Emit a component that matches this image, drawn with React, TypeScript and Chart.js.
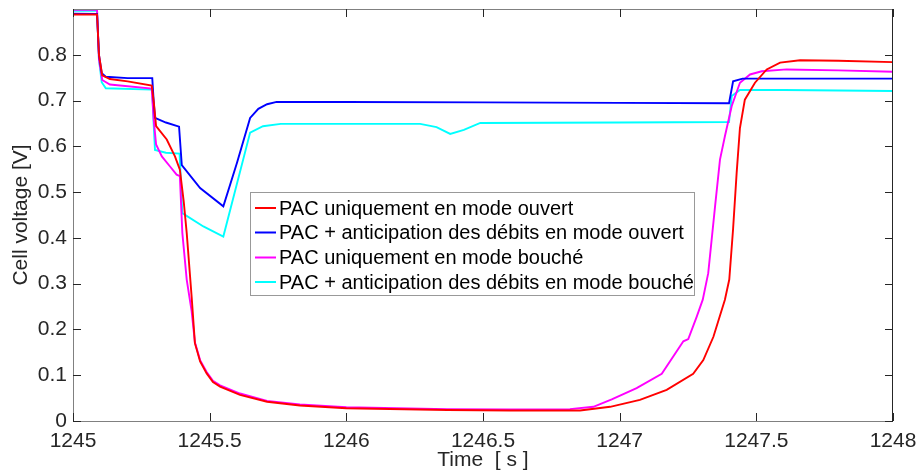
import React, { useEffect, useRef } from "react";
import { Chart, registerables } from "chart.js";

Chart.register(...registerables);

const xTicks = [1245, 1245.5, 1246, 1246.5, 1247, 1247.5, 1248];
const yTicks = [0, 0.1, 0.2, 0.3, 0.4, 0.5, 0.6, 0.7, 0.8];

const redT = [1245, 1245.088, 1245.095, 1245.107, 1245.135, 1245.2, 1245.288, 1245.295, 1245.304, 1245.343, 1245.373, 1245.391, 1245.405, 1245.416, 1245.434, 1245.446, 1245.465, 1245.489, 1245.512, 1245.538, 1245.611, 1245.71, 1245.83, 1246.0, 1246.37, 1246.6, 1246.855, 1246.965, 1247.074, 1247.172, 1247.269, 1247.306, 1247.343, 1247.385, 1247.401, 1247.415, 1247.428, 1247.44, 1247.458, 1247.495, 1247.538, 1247.587, 1247.66, 1247.8, 1248];
const redV = [0.888, 0.888, 0.80, 0.755, 0.747, 0.742, 0.733, 0.70, 0.644, 0.615, 0.578, 0.549, 0.48, 0.411, 0.272, 0.170, 0.130, 0.104, 0.085, 0.075, 0.057, 0.042, 0.034, 0.028, 0.024, 0.023, 0.023, 0.031, 0.046, 0.068, 0.103, 0.133, 0.184, 0.265, 0.309, 0.42, 0.542, 0.640, 0.702, 0.739, 0.768, 0.783, 0.788, 0.787, 0.784];

const blueT = [1245, 1245.088, 1245.095, 1245.105, 1245.12, 1245.2, 1245.29, 1245.295, 1245.30, 1245.34, 1245.388, 1245.398, 1245.465, 1245.55, 1245.60, 1245.648, 1245.678, 1245.71, 1245.745, 1246.0, 1246.5, 1247.0, 1247.40, 1247.415, 1247.45, 1248];
const blueV = [0.890, 0.889, 0.80, 0.76, 0.752, 0.749, 0.749, 0.70, 0.662, 0.652, 0.643, 0.559, 0.509, 0.469, 0.564, 0.662, 0.682, 0.692, 0.697, 0.697, 0.696, 0.695, 0.694, 0.742, 0.748, 0.748];

const magT = [1245, 1245.088, 1245.095, 1245.107, 1245.135, 1245.288, 1245.295, 1245.304, 1245.325, 1245.355, 1245.379, 1245.391, 1245.400, 1245.416, 1245.434, 1245.446, 1245.465, 1245.489, 1245.512, 1245.538, 1245.611, 1245.71, 1245.83, 1246.0, 1246.37, 1246.6, 1246.818, 1246.904, 1246.971, 1247.062, 1247.154, 1247.233, 1247.251, 1247.282, 1247.304, 1247.324, 1247.349, 1247.367, 1247.385, 1247.41, 1247.44, 1247.477, 1247.52, 1247.611, 1247.8, 1248];
const magV = [0.898, 0.898, 0.79, 0.745, 0.735, 0.726, 0.66, 0.604, 0.578, 0.556, 0.538, 0.535, 0.411, 0.309, 0.24, 0.172, 0.133, 0.107, 0.088, 0.078, 0.060, 0.044, 0.036, 0.030, 0.026, 0.025, 0.026, 0.031, 0.047, 0.072, 0.103, 0.174, 0.179, 0.228, 0.265, 0.323, 0.469, 0.571, 0.622, 0.688, 0.739, 0.757, 0.764, 0.768, 0.766, 0.763];

const cyanT = [1245, 1245.088, 1245.095, 1245.105, 1245.12, 1245.29, 1245.295, 1245.30, 1245.34, 1245.39, 1245.40, 1245.477, 1245.55, 1245.648, 1245.695, 1245.76, 1246.0, 1246.27, 1246.33, 1246.38, 1246.43, 1246.49, 1247.0, 1247.40, 1247.41, 1247.44, 1247.6, 1248];
const cyanV = [0.896, 0.896, 0.79, 0.74, 0.727, 0.724, 0.65, 0.592, 0.586, 0.584, 0.454, 0.425, 0.403, 0.630, 0.644, 0.649, 0.649, 0.649, 0.642, 0.627, 0.636, 0.651, 0.652, 0.653, 0.71, 0.723, 0.723, 0.721];

const seriesNames = [
  "PAC uniquement en mode ouvert",
  "PAC + anticipation des débits en mode ouvert",
  "PAC uniquement en mode bouché",
  "PAC + anticipation des débits en mode bouché",
];
const seriesColors = ["#ff0000", "#0000ff", "#ff00ff", "#00ffff"];

const FONT = "'Liberation Sans', Arial, Helvetica, sans-serif";

const toPts = (t: number[], v: number[]) => t.map((x, i) => ({ x, y: v[i] }));

const zeroPad = (s: any) => {
  s.paddingTop = 0;
  s.paddingBottom = 0;
  s.paddingLeft = 0;
  s.paddingRight = 0;
};

const boxPlugin = {
  id: "matlabBox",
  afterDraw(chart: any) {
    const { ctx, chartArea } = chart;
    const { left, right, top, bottom } = chartArea;
    const xs = chart.scales.x;
    const ys = chart.scales.y;
    ctx.save();
    ctx.lineWidth = 1;
    ctx.strokeStyle = "#808080";
    ctx.beginPath();
    ctx.moveTo(left, top + 0.5);
    ctx.lineTo(right, top + 0.5);
    ctx.moveTo(left + 0.5, top);
    ctx.lineTo(left + 0.5, bottom);
    ctx.moveTo(left, bottom + 0.5);
    ctx.lineTo(right, bottom + 0.5);
    ctx.stroke();
    ctx.strokeStyle = "#262626";
    ctx.beginPath();
    ctx.moveTo(right - 0.5, top);
    ctx.lineTo(right - 0.5, bottom);
    ctx.stroke();
    const L = 8;
    ctx.strokeStyle = "#262626";
    ctx.beginPath();
    xTicks.forEach((t) => {
      const px = Math.round(xs.getPixelForValue(t)) + 0.5;
      ctx.moveTo(px, bottom);
      ctx.lineTo(px, bottom - L);
      ctx.moveTo(px, top);
      ctx.lineTo(px, top + L);
    });
    yTicks.forEach((v) => {
      const py = Math.round(ys.getPixelForValue(v)) + 0.5;
      ctx.moveTo(left, py);
      ctx.lineTo(left + L, py);
      ctx.moveTo(right, py);
      ctx.lineTo(right - L, py);
    });
    ctx.stroke();

    const bx = 250.5, by = 192.5, bw = 444, bh = 103;
    ctx.fillStyle = "#ffffff";
    ctx.fillRect(bx, by, bw, bh);
    ctx.strokeStyle = "#999999";
    ctx.lineWidth = 1;
    ctx.strokeRect(bx, by, bw, bh);
    ctx.font = `20px ${FONT}`;
    ctx.textBaseline = "middle";
    ctx.textAlign = "left";
    const rows = [208, 232.5, 257.5, 282];
    seriesNames.forEach((name, i) => {
      ctx.strokeStyle = seriesColors[i];
      ctx.lineWidth = 2;
      ctx.beginPath();
      ctx.moveTo(255, rows[i]);
      ctx.lineTo(276, rows[i]);
      ctx.stroke();
      ctx.fillStyle = "#000000";
      ctx.fillText(name, 279, rows[i] + 1);
    });
    ctx.restore();
  },
};

export default function App() {
  const ref = useRef<HTMLCanvasElement | null>(null);
  useEffect(() => {
    if (!ref.current) return;
    const data = [toPts(redT, redV), toPts(blueT, blueV), toPts(magT, magV), toPts(cyanT, cyanV)];
    const chart = new Chart(ref.current, {
      type: "line",
      data: {
        datasets: data.map((d, i) => ({
          label: seriesNames[i],
          data: d,
          borderColor: seriesColors[i],
          backgroundColor: seriesColors[i],
          borderWidth: 1.9,
          pointRadius: 0,
          tension: 0,
          fill: false,
        })),
      },
      options: {
        responsive: false,
        animation: false,
        events: [],
        layout: { padding: { top: 9, right: 28, left: 0, bottom: 0 } },
        plugins: { legend: { display: false }, tooltip: { enabled: false } },
        scales: {
          x: {
            type: "linear",
            min: 1245,
            max: 1248,
            afterFit: (s: any) => { s.height = 50; zeroPad(s); },
            afterBuildTicks: (s: any) => { s.ticks = xTicks.map((v) => ({ value: v })); },
            grid: { display: false, drawTicks: false },
            border: { display: false },
            ticks: {
              padding: 8,
              color: "#262626",
              font: { family: FONT, size: 21 },
              maxRotation: 0,
              callback: (v: any) => String(v),
            },
            title: {
              display: true,
              text: "Time  [ s ]",
              color: "#262626",
              font: { family: FONT, size: 21, lineHeight: 1.0 },
              padding: { top: 0, bottom: 0 },
            },
          },
          y: {
            type: "linear",
            min: 0,
            max: 0.9,
            afterFit: (s: any) => { s.width = 73; zeroPad(s); },
            afterBuildTicks: (s: any) => { s.ticks = yTicks.map((v) => ({ value: v })); },
            grid: { display: false, drawTicks: false },
            border: { display: false },
            ticks: {
              padding: 6,
              color: "#262626",
              font: { family: FONT, size: 21 },
              callback: (v: any) => (v === 0 ? "0" : Number(v).toFixed(1)),
            },
            title: {
              display: true,
              text: "Cell voltage [V]",
              color: "#262626",
              font: { family: FONT, size: 21, lineHeight: 1.0 },
              padding: { top: 11, bottom: 0 },
            },
          },
        },
      },
      plugins: [boxPlugin],
    });
    return () => chart.destroy();
  }, []);
  return (
    <canvas
      ref={ref}
      width={921}
      height={471}
      style={{ position: "absolute", left: 0, top: 0, display: "block" }}
    />
  );
}
